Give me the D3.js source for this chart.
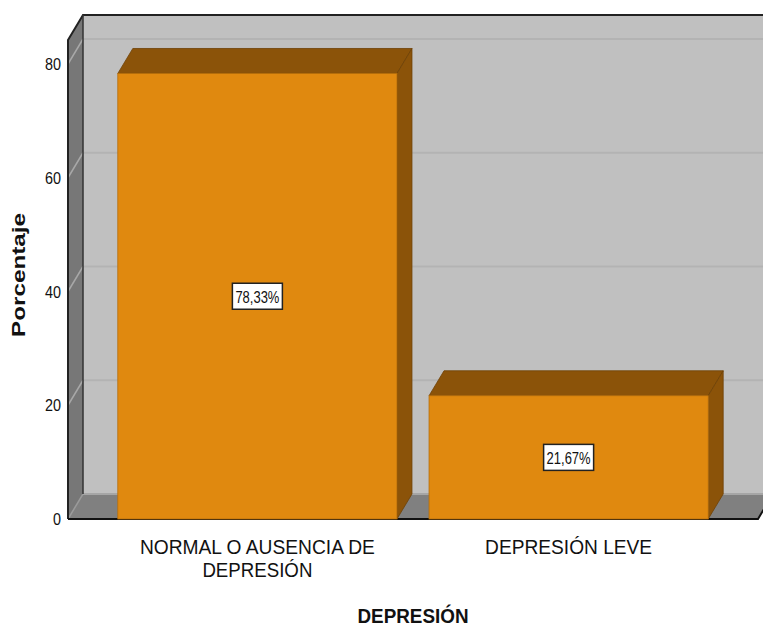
<!DOCTYPE html>
<html>
<head>
<meta charset="utf-8">
<script src="https://cdn.jsdelivr.net/npm/d3@7"></script>
<style>
body{margin:0;background:#fff;}
svg{display:block;font-family:"Liberation Sans",Arial,sans-serif;}
</style>
</head>
<body>
<svg id="chart" width="763" height="626"></svg>
<script>
// data
const categories = [["NORMAL O AUSENCIA DE","DEPRESIÓN"],["DEPRESIÓN LEVE"]];
const percents = [78.33, 21.67];
const pctLabels = ["78,33%","21,67%"];
const yTicks = [0,20,40,60,80];
const yTitle = "Porcentaje";
const xTitle = "DEPRESIÓN";

const svg = d3.select("#chart");
const W = 763, H = 626;

// depth offset of the 3d box
const DX = 15, DY = -25;

const X = d3.scaleBand().domain(d3.range(categories.length))
	.range([68,758]).paddingInner(0.103).paddingOuter(0.16);
const Y = d3.scaleLinear().domain([0,80]).range([519,64]);
const yTop = Y.invert(15 - DY);

const pts = a => a.map(p=>p.join(",")).join(" ");

// back wall
svg.append("rect")
	.attr("x",68+DX).attr("y",Y(yTop)+DY)
	.attr("width",W).attr("height",Y(0)-Y(yTop))
	.attr("fill","#c0c0c0");

// gridlines on back wall
svg.selectAll(".grid").data(yTicks.filter(d=>d>0)).enter().append("line")
	.attr("x1",68+DX).attr("x2",W)
	.attr("y1",d=>Y(d)+DY).attr("y2",d=>Y(d)+DY)
	.attr("stroke","#b3b3b3").attr("stroke-width",2);

// left wall
svg.append("polygon")
	.attr("points",pts([[68,Y(0)],[68,Y(yTop)],[68+DX,Y(yTop)+DY],[68+DX,Y(0)+DY]]))
	.attr("fill","#777");
svg.selectAll(".lgrid").data(yTicks.filter(d=>d>0)).enter().append("line")
	.attr("x1",68).attr("x2",68+DX)
	.attr("y1",d=>Y(d)).attr("y2",d=>Y(d)+DY)
	.attr("stroke","#a8a8a8").attr("stroke-width",1.5);

// floor
svg.append("polygon")
	.attr("points",pts([[68,Y(0)],[68+DX,Y(0)+DY],[758+DX,Y(0)+DY],[758,Y(0)]]))
	.attr("fill","#808080");
svg.append("line").attr("x1",68).attr("x2",68+DX).attr("y1",Y(0)).attr("y2",Y(0)+DY)
	.attr("stroke","#9a9a9a").attr("stroke-width",1.5);
svg.append("line").attr("x1",68+DX).attr("x2",W).attr("y1",Y(0)+DY).attr("y2",Y(0)+DY)
	.attr("stroke","#a6a6a6").attr("stroke-width",2);

// frame lines
svg.append("polyline")
	.attr("points",pts([[68,Y(0)],[68,Y(yTop)],[68+DX,Y(yTop)+DY],[W,Y(yTop)+DY]]))
	.attr("fill","none").attr("stroke","#222").attr("stroke-width",2);
svg.append("line").attr("x1",68+DX).attr("x2",68+DX).attr("y1",Y(yTop)+DY).attr("y2",Y(0)+DY)
	.attr("stroke","#333").attr("stroke-width",1.5);
svg.append("polyline")
	.attr("points",pts([[68,Y(0)],[758,Y(0)],[758+DX,Y(0)+DY]]))
	.attr("fill","none").attr("stroke","#111").attr("stroke-width",2);

// bars
const bars = svg.selectAll(".bar").data(percents).enter().append("g").attr("class","bar");
bars.append("polygon")
	.attr("points",(d,i)=>{const x0=X(i),x1=X(i)+X.bandwidth(),y=Y(d);
		return pts([[x0,y],[x0+DX,y+DY],[x1+DX,y+DY],[x1,y]])})
	.attr("fill","#8b5309").attr("stroke","#6e4106").attr("stroke-width",0.8);
bars.append("polygon")
	.attr("points",(d,i)=>{const x1=X(i)+X.bandwidth(),y=Y(d);
		return pts([[x1,y],[x1+DX,y+DY],[x1+DX,Y(0)+DY],[x1,Y(0)]])})
	.attr("fill","#8b5309").attr("stroke","#6e4106").attr("stroke-width",0.8);
bars.append("rect")
	.attr("x",(d,i)=>X(i)).attr("y",d=>Y(d))
	.attr("width",X.bandwidth()).attr("height",d=>Y(0)-Y(d))
	.attr("fill","#e0890f").attr("stroke","#b56d0a").attr("stroke-width",0.8);

// value labels
const lab = bars.append("g")
	.attr("transform",(d,i)=>`translate(${X(i)+X.bandwidth()/2},${(Y(d)+Y(0))/2})`);
lab.append("rect").attr("x",-25).attr("y",-13).attr("width",50).attr("height",26)
	.attr("fill","#fff").attr("stroke","#222").attr("stroke-width",1.5);
lab.append("text").attr("text-anchor","middle").attr("y",6.5)
	.attr("font-size",16).attr("textLength",44).attr("lengthAdjust","spacingAndGlyphs")
	.attr("fill","#111").text((d,i)=>pctLabels[i]);

// y tick labels
svg.selectAll(".ytick").data(yTicks).enter().append("text")
	.attr("x",61).attr("y",d=>Y(d)+6).attr("text-anchor","end")
	.attr("font-size",17).attr("textLength",d=>String(d).length*8).attr("lengthAdjust","spacingAndGlyphs")
	.attr("fill","#111").text(d=>d);

// y title
svg.append("text").attr("transform","translate(25,275) rotate(-90)")
	.attr("text-anchor","middle").attr("font-size",18).attr("font-weight","bold")
	.attr("textLength",124).attr("lengthAdjust","spacingAndGlyphs")
	.attr("fill","#111").text(yTitle);

// category labels
const catW = [[235,110],[167]];
categories.forEach((lines,i)=>{
	lines.forEach((s,j)=>{
		svg.append("text")
			.attr("x",X(i)+X.bandwidth()/2).attr("y",554+j*23)
			.attr("text-anchor","middle").attr("font-size",20)
			.attr("textLength",catW[i][j]).attr("lengthAdjust","spacingAndGlyphs")
			.attr("fill","#111").text(s);
	});
});

// x title
svg.append("text").attr("x",413).attr("y",623).attr("text-anchor","middle")
	.attr("font-size",21).attr("font-weight","bold")
	.attr("textLength",111).attr("lengthAdjust","spacingAndGlyphs")
	.attr("fill","#111").text(xTitle);
</script>
</body>
</html>
